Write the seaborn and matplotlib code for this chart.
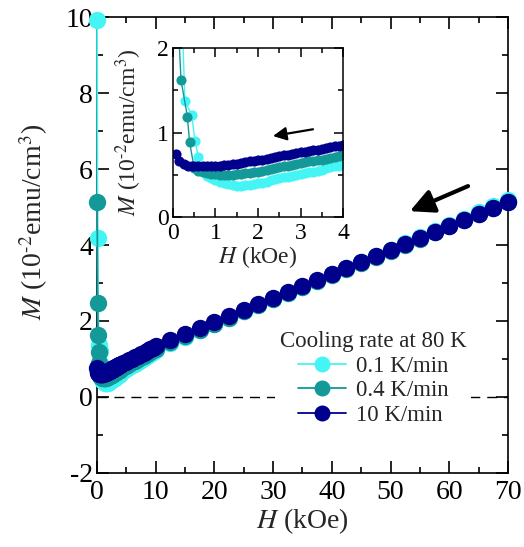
import matplotlib
matplotlib.use("Agg")
import matplotlib.pyplot as plt
from matplotlib.lines import Line2D
from matplotlib.ticker import MultipleLocator
import seaborn as sns
import pandas as pd

# ---------------- data ----------------
rates = ["0.1 K/min", "0.4 K/min", "10 K/min"]
colors = ["#45F5F5", "#139A98", "#00008C"]

# shared field grid (kOe)
H_band = [0.7, 0.8, 0.9, 1.0, 1.1, 1.2, 1.3, 1.4, 1.5, 1.6, 1.7, 1.8, 1.9, 2.0,
          2.1, 2.2, 2.3, 2.4, 2.5, 2.6, 2.7, 2.8, 2.9, 3.0, 3.1, 3.2, 3.3, 3.4,
          3.5, 3.6, 3.7, 3.8, 3.9, 4.0]
H_mid = [4.5, 5.0, 5.5, 6.0, 6.5, 7.0, 7.5, 8.0, 8.5, 9.0, 9.5, 10.0]
H_high = [12.5, 15.0, 17.5, 20.0, 22.5, 25.0, 27.5, 30.0, 32.5, 35.0, 37.5,
          40.0, 42.5, 45.0, 47.5, 50.0, 52.5, 55.0, 57.5, 60.0, 62.5, 65.0,
          67.5, 70.0]

# 0.1 K/min
H_low_01 = [0.03, 0.10, 0.28, 0.44, 0.52, 0.60]
M_low_01 = [9.92, 4.18, 1.38, 1.21, 0.90, 0.71]
M_band_01 = [0.55, 0.49, 0.46, 0.44, 0.42, 0.40, 0.39, 0.38, 0.37, 0.37, 0.38,
             0.38, 0.39, 0.40, 0.41, 0.42, 0.44, 0.45, 0.46, 0.47, 0.48, 0.49,
             0.50, 0.51, 0.52, 0.53, 0.54, 0.55, 0.56, 0.58, 0.59, 0.60, 0.61,
             0.63]
M_mid_01 = [0.68, 0.73, 0.78, 0.83, 0.88, 0.93, 0.98, 1.03, 1.08, 1.13, 1.18, 1.23]
M_high_01 = [1.41, 1.58, 1.75, 1.92, 2.08, 2.25, 2.41, 2.57, 2.74, 2.90, 3.06,
             3.23, 3.39, 3.55, 3.72, 3.88, 4.04, 4.20, 4.37, 4.53, 4.69, 4.86,
             5.02, 5.18]

# 0.4 K/min
H_low_04 = [0.04, 0.11, 0.19, 0.34, 0.39, 0.50, 0.60]
M_low_04 = [5.13, 2.47, 1.62, 1.19, 0.89, 0.58, 0.55]
M_band_04 = [0.53, 0.52, 0.51, 0.51, 0.50, 0.50, 0.50, 0.50, 0.51, 0.51, 0.52,
             0.52, 0.53, 0.54, 0.55, 0.56, 0.57, 0.58, 0.59, 0.60, 0.61, 0.62,
             0.63, 0.64, 0.65, 0.66, 0.67, 0.68, 0.68, 0.69, 0.70, 0.71, 0.72,
             0.73]
M_mid_04 = [0.78, 0.82, 0.87, 0.91, 0.96, 1.00, 1.05, 1.09, 1.14, 1.18, 1.23, 1.27]
M_high_04 = [1.44, 1.60, 1.77, 1.93, 2.09, 2.25, 2.41, 2.57, 2.73, 2.89, 3.05,
             3.21, 3.37, 3.53, 3.69, 3.85, 4.01, 4.17, 4.33, 4.49, 4.65, 4.81,
             4.97, 5.13]

# 10 K/min
H_low_10 = [0.07, 0.15, 0.25, 0.35, 0.45, 0.50, 0.60]
M_low_10 = [0.75, 0.67, 0.63, 0.61, 0.60, 0.60, 0.60]
M_band_10 = [0.60, 0.60, 0.60, 0.61, 0.61, 0.62, 0.62, 0.63, 0.63, 0.64, 0.65,
             0.66, 0.67, 0.68, 0.68, 0.69, 0.70, 0.71, 0.72, 0.73, 0.74, 0.75,
             0.76, 0.77, 0.77, 0.78, 0.79, 0.80, 0.81, 0.82, 0.83, 0.84, 0.84,
             0.85]
M_mid_10 = [0.89, 0.93, 0.97, 1.01, 1.05, 1.09, 1.13, 1.17, 1.21, 1.25, 1.29, 1.33]
M_high_10 = [1.49, 1.65, 1.81, 1.97, 2.13, 2.28, 2.44, 2.60, 2.76, 2.91, 3.07,
             3.23, 3.39, 3.55, 3.71, 3.86, 4.02, 4.18, 4.34, 4.50, 4.66, 4.82,
             4.97, 5.13]

x_ticks = [0, 10, 20, 30, 40, 50, 60, 70]
y_ticks = [-2, 0, 2, 4, 6, 8, 10]
inset_x_ticks = [0, 1, 2, 3, 4]
inset_y_ticks = [0, 1, 2]

# ---------------- build table ----------------
frames = []
for rate, hl, ml, mb, mm, mh in [
    (rates[0], H_low_01, M_low_01, M_band_01, M_mid_01, M_high_01),
    (rates[1], H_low_04, M_low_04, M_band_04, M_mid_04, M_high_04),
    (rates[2], H_low_10, M_low_10, M_band_10, M_mid_10, M_high_10),
]:
    H = hl + H_band + H_mid + H_high
    M = ml + mb + mm + mh
    frames.append(pd.DataFrame({"H": H, "M": M, "rate": rate}))
df = pd.concat(frames, ignore_index=True)

# ---------------- style ----------------
sns.set_style("ticks")
plt.rcParams["font.family"] = ["Liberation Serif", "DejaVu Serif"]
plt.rcParams["mathtext.fontset"] = "stix"
plt.rcParams["axes.unicode_minus"] = False

fig = plt.figure(figsize=(5.24, 5.47), dpi=100)
ax = fig.add_axes([0.185, 0.1353, 0.7844, 0.8336])

palette = dict(zip(rates, colors))

ax.axhline(0, color="black", lw=1.0, ls=(0, (7.2, 5)), zorder=1)

sns.lineplot(data=df, x="H", y="M", hue="rate", hue_order=rates, palette=palette,
             sort=False, estimator=None, marker="o", markersize=12.5,
             markeredgewidth=0, lw=1.3, legend=False, ax=ax, clip_on=False,
             zorder=3)

ylabel_text = r"$M$ (10$^{\text{-}2}$emu/cm$^{3}$)"

ax.set_xlim(0, 70)
ax.set_ylim(-2, 10)
ax.set_xticks(x_ticks)
ax.set_yticks(y_ticks)
ax.xaxis.set_minor_locator(MultipleLocator(5))
ax.yaxis.set_minor_locator(MultipleLocator(1))
ax.tick_params(which="both", direction="in", top=True, right=True, width=1.2,
               labelsize=20, colors="black")
ax.tick_params(which="major", length=8.5)
ax.tick_params(which="minor", length=4.3)
ax.tick_params(axis="x", pad=5)
ax.tick_params(axis="y", pad=3)
for s in ax.spines.values():
    s.set_linewidth(1.2)
    s.set_color("black")
ax.set_xlabel(r"$H$ (kOe)", fontsize=20, labelpad=1)
ax.set_ylabel(ylabel_text, fontsize=20)
ax.yaxis.set_label_coords(-0.115, 0.55)

ax.annotate("", xy=(53.3, 4.89), xytext=(63.2, 5.55),
            arrowprops=dict(arrowstyle="-|>,head_length=0.4,head_width=0.2",
                            lw=3, color="black", mutation_scale=36,
                            shrinkA=0, shrinkB=0))

handles = [Line2D([0], [0], color=c, lw=1.3, marker="o", markersize=11.5,
                  markeredgewidth=0) for c in colors]
leg = ax.legend(handles, rates, title="Cooling rate at 80 K", loc="center",
                bbox_to_anchor=(0.712, 0.308), bbox_transform=fig.transFigure,
                fontsize=16.5, title_fontsize=16.5, frameon=True,
                handlelength=2.1, handletextpad=0.45, labelspacing=0.15,
                borderpad=0.2, borderaxespad=0)
leg.get_frame().set_edgecolor("none")
leg.get_frame().set_facecolor("white")
leg.get_frame().set_alpha(1)
leg.set_zorder(5)

# ---------------- inset ----------------
axin = fig.add_axes([0.330, 0.603, 0.325, 0.309])
axin.set_facecolor("white")
sns.lineplot(data=df, x="H", y="M", hue="rate", hue_order=rates, palette=palette,
             sort=False, estimator=None, marker="o", markersize=7.3,
             markeredgewidth=0, lw=1.0, legend=False, ax=axin)
axin.set_xlim(0, 4)
axin.set_ylim(0, 2)
axin.set_xticks(inset_x_ticks)
axin.set_yticks(inset_y_ticks)
axin.xaxis.set_minor_locator(MultipleLocator(0.5))
axin.yaxis.set_minor_locator(MultipleLocator(0.5))
axin.tick_params(which="both", direction="in", top=True, right=True, width=1.1,
                 labelsize=17, colors="black")
axin.tick_params(which="major", length=6.5)
axin.tick_params(which="minor", length=3.6)
axin.tick_params(axis="x", pad=4)
axin.tick_params(axis="y", pad=3)
for s in axin.spines.values():
    s.set_linewidth(1.1)
    s.set_color("black")
axin.set_xlabel(r"$H$ (kOe)", fontsize=17, labelpad=0)
axin.set_ylabel(ylabel_text, fontsize=17, labelpad=2)
axin.yaxis.set_label_coords(-0.17, 0.5)

axin.annotate("", xy=(2.35, 0.96), xytext=(3.29, 1.04),
              arrowprops=dict(arrowstyle="-|>,head_length=0.4,head_width=0.2",
                              lw=1.6, color="black", mutation_scale=20,
                              shrinkA=0, shrinkB=0))

fig.savefig("out.png", dpi=100)
